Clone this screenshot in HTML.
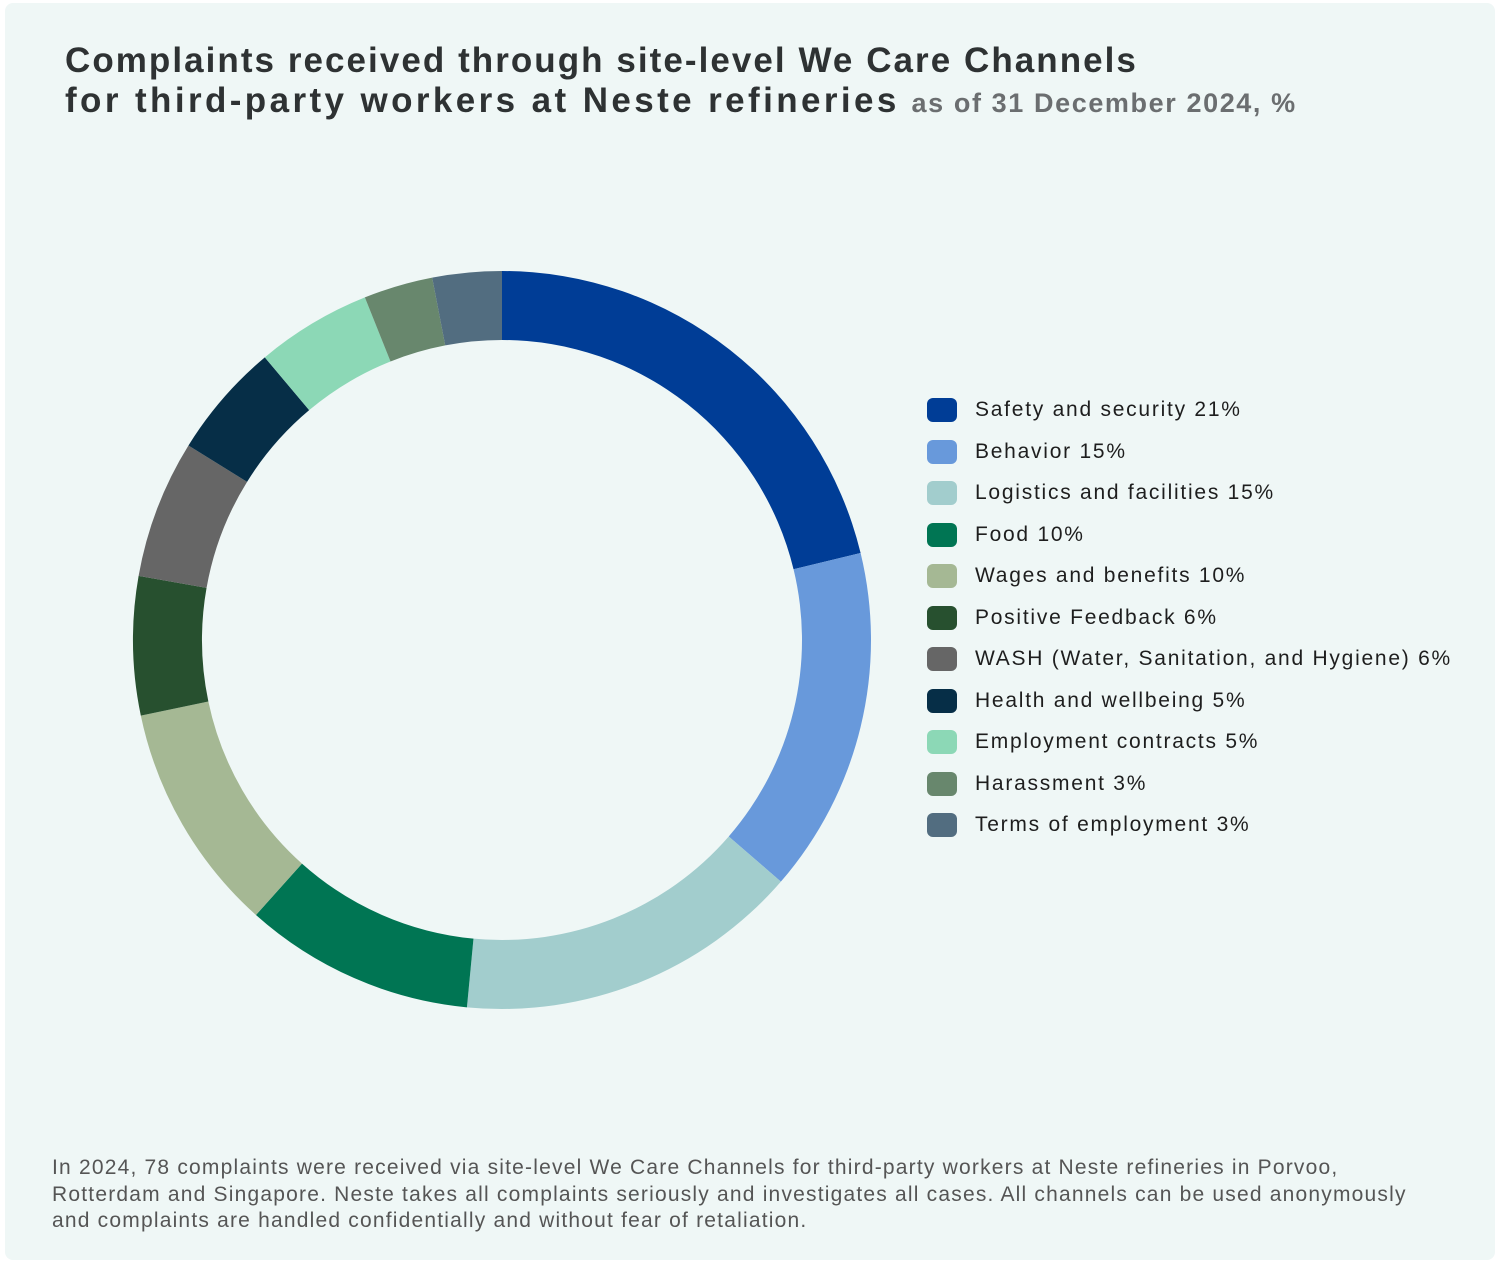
<!DOCTYPE html>
<html><head><meta charset="utf-8"><style>
html,body{margin:0;padding:0;background:#fff;width:1500px;height:1264px;overflow:hidden;font-family:"Liberation Sans",sans-serif}
#card{position:absolute;left:5px;top:3px;width:1490px;height:1257px;background:#eff7f6;border-radius:8px}
#title{position:absolute;left:65px;top:41px;font-size:35px;font-weight:bold;color:#2e3233;line-height:40px;letter-spacing:2.05px;white-space:nowrap}
#title .l2{letter-spacing:3.4px}
#title span.sub{font-size:27px;color:#6b6e70;letter-spacing:1.6px}
#note{position:absolute;left:52px;top:1155px;font-size:21px;color:#555;line-height:26.5px;white-space:nowrap;letter-spacing:1.2px}
.leg{position:absolute;left:927px;height:24px;display:flex;align-items:center}
.sw{width:30px;height:24px;border-radius:6px;margin-right:18px}
.lt{font-size:21px;color:#1e1e1e;letter-spacing:1.75px;white-space:nowrap}
</style></head><body>
<div id="card"></div>
<div id="title">Complaints received through site-level We Care Channels<br><span class="l2">for third-party workers at Neste refineries</span> <span class="sub">as of 31 December 2024, %</span></div>
<svg id="chart" width="1500" height="1264" style="position:absolute;left:0;top:0"></svg>
<div id="legend"></div>
<div id="note">In 2024, 78 complaints were received via site-level We Care Channels for third-party workers at Neste refineries in Porvoo,<br>Rotterdam and Singapore. Neste takes all complaints seriously and investigates all cases. All channels can be used anonymously<br>and complaints are handled confidentially and without fear of retaliation.</div>
<script>
const categories=["Safety and security","Behavior","Logistics and facilities","Food","Wages and benefits","Positive Feedback","WASH (Water, Sanitation, and Hygiene)","Health and wellbeing","Employment contracts","Harassment","Terms of employment"];
const values=[21,15,15,10,10,6,6,5,5,3,3];
const colors=["#003d96","#6899db","#a2cdcd","#007553","#a5b894","#27502f","#666666","#062e47","#8cd8b6","#68876d","#526d80"];
const cx=502,cy=640,R=369,r=300;
const svg=document.getElementById('chart');
const total=values.reduce((a,b)=>a+b,0);
function pt(a,rad){return [cx+rad*Math.sin(a),cy-rad*Math.cos(a)];}
let acc=0;
values.forEach((v,i)=>{
  const a0=acc/total*2*Math.PI;acc+=v;const a1=acc/total*2*Math.PI;
  const large=(a1-a0)>Math.PI?1:0;
  const p0=pt(a0,R),p1=pt(a1,R),q1=pt(a1,r),q0=pt(a0,r);
  const d=`M${p0[0]},${p0[1]} A${R},${R} 0 ${large} 1 ${p1[0]},${p1[1]} L${q1[0]},${q1[1]} A${r},${r} 0 ${large} 0 ${q0[0]},${q0[1]} Z`;
  const path=document.createElementNS('http://www.w3.org/2000/svg','path');
  path.setAttribute('d',d);path.setAttribute('fill',colors[i]);
  
  
  svg.appendChild(path);
});
const leg=document.getElementById('legend');
categories.forEach((c,i)=>{
  const row=document.createElement('div');row.className='leg';row.style.top=(398+i*41.5)+'px';
  
  
  row.innerHTML=`<div class="sw" style="background:${colors[i]}"></div><div class="lt">${c} ${values[i]}%</div>`;
  leg.appendChild(row);
});
</script>
</body></html>
